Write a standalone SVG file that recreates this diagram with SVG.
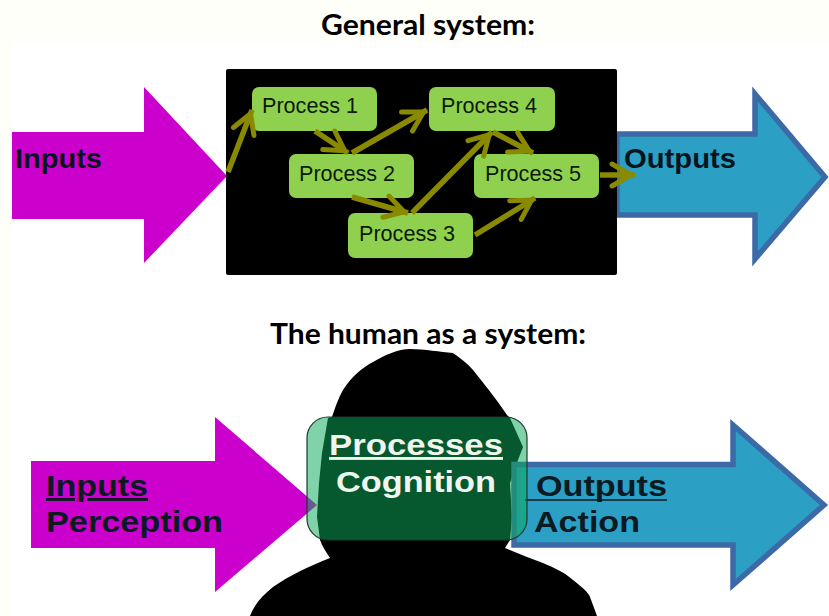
<svg xmlns="http://www.w3.org/2000/svg" width="829" height="616" viewBox="0 0 829 616">
<defs>
<marker id="ah" markerUnits="userSpaceOnUse" markerWidth="40" markerHeight="40" refX="26" refY="20" orient="auto" overflow="visible"><path d="M3 9 L22 20 L3 31" fill="none" stroke="#8a8a00" stroke-width="5" stroke-linecap="round" stroke-linejoin="miter"/></marker>
</defs>
<style>
text{font-family:"Liberation Sans",Arial,sans-serif}
.h{font-family:Lato,"Open Sans",sans-serif;font-weight:700;font-size:29px;fill:#000}
.p{fill:#8fd14f}
.pt{font-size:21.6px;fill:#0c1a08}
.b{font-weight:700;font-size:28.5px;fill:#06141e}
.b2{font-weight:700;font-size:29px;fill:#0b1a22}
.w{font-weight:700;font-size:29px;fill:#f0f5ee}
.u{stroke:#0b1a22;stroke-width:1.6}
.c{fill:none;stroke:#8a8a00;stroke-width:5.5;marker-end:url(#ah)}
.ob{fill:#2ba0c4;stroke:#3c6aa6;stroke-width:5.5}
</style>
<rect width="829" height="616" fill="#fffffa"/>
<rect x="12" y="42" width="817" height="574" fill="#fff"/>
<text class="h" x="321" y="35" textLength="214" lengthAdjust="spacingAndGlyphs">General system:</text>
<text class="h" x="270" y="344" textLength="316" lengthAdjust="spacingAndGlyphs">The human as a system:</text>
<g id="inputs-top"><polygon points="12,132 144,132 144,87 227,176 144,263 144,219 12,219" fill="#cc00cc"/><text class="b" x="15" y="168" textLength="87" lengthAdjust="spacingAndGlyphs">Inputs</text></g>
<g id="outputs-top"><polygon points="617,134 755,134 755,94 825,177 755,259 755,215 617,215" class="ob"/><text class="b" x="624" y="168" textLength="112" lengthAdjust="spacingAndGlyphs">Outputs</text></g>
<rect id="system" x="226" y="69" width="391" height="206" rx="2" fill="#000"/>
<g id="process1"><rect class="p" x="252" y="87" width="125" height="44" rx="7"/><text class="pt" x="262" y="113">Process 1</text></g>
<g id="process2"><rect class="p" x="289" y="154" width="125" height="44" rx="7"/><text class="pt" x="299" y="181">Process 2</text></g>
<g id="process3"><rect class="p" x="348" y="213" width="125" height="45" rx="7"/><text class="pt" x="359" y="241">Process 3</text></g>
<g id="process4"><rect class="p" x="429" y="87" width="126" height="44" rx="7"/><text class="pt" x="441" y="113">Process 4</text></g>
<g id="process5"><rect class="p" x="474" y="154" width="125" height="44" rx="7"/><text class="pt" x="485" y="181">Process 5</text></g>
<g id="connectors">
<line class="c" x1="228" y1="172" x2="252" y2="110"/>
<line class="c" x1="315" y1="131" x2="348" y2="153"/>
<line class="c" x1="352" y1="153" x2="427" y2="110"/>
<line class="c" x1="352" y1="197" x2="408" y2="213"/>
<line class="c" x1="412" y1="213" x2="492" y2="132"/>
<line class="c" x1="493" y1="132" x2="533" y2="153"/>
<line class="c" x1="475" y1="235" x2="535" y2="198"/>
<line class="c" x1="600" y1="175" x2="635" y2="175"/>
</g>
<g id="person"><path d="M250 616 C255 603 263 595 273 587 C290 575 310 566 330 558 C326 552 322 546 320 540 L317 517 L319 483 L322 453 L328 418 L332 417 C336 405 339 397 343 390 C352 376 362 368 373 362 C385 355 398 349 410 349 C425 349 440 352 453 353 C460 358 467 363 473 370 C485 385 497 400 507 415 L510 418 L523 447 L518 460 L510 483 L512 517 L510 540 L505 548 L527 557 L543 563 C555 568 565 573 573 580 C582 587 588 592 590 597 L597 616 Z" fill="#000"/></g>
<g id="inputs-bottom"><polygon points="31,461 215,461 215,417 317,505 215,592 215,548 31,548" fill="#cc00cc"/><text class="b2" x="46" y="496" textLength="102" lengthAdjust="spacingAndGlyphs" text-decoration="underline">Inputs</text><text class="b2" x="46" y="532" textLength="177" lengthAdjust="spacingAndGlyphs">Perception</text></g>
<g id="outputs-bottom"><polygon points="514,464.5 733,464.5 733,425 824,505 733,585 733,545 514,545" class="ob"/><text class="b2" x="536" y="496" textLength="131" lengthAdjust="spacingAndGlyphs">Outputs</text><line class="u" x1="525" y1="500" x2="667" y2="500"/><text class="b2" x="534" y="532" textLength="106" lengthAdjust="spacingAndGlyphs">Action</text></g>
<g id="processes"><rect x="307" y="417" width="220" height="123" rx="21" fill="#0cab5a" fill-opacity=".52" stroke="#1e3a2a" stroke-width="1.2"/><text class="w" x="329" y="455" textLength="174" lengthAdjust="spacingAndGlyphs" text-decoration="underline">Processes</text><text class="w" x="336" y="492" textLength="160" lengthAdjust="spacingAndGlyphs">Cognition</text></g>
</svg>
